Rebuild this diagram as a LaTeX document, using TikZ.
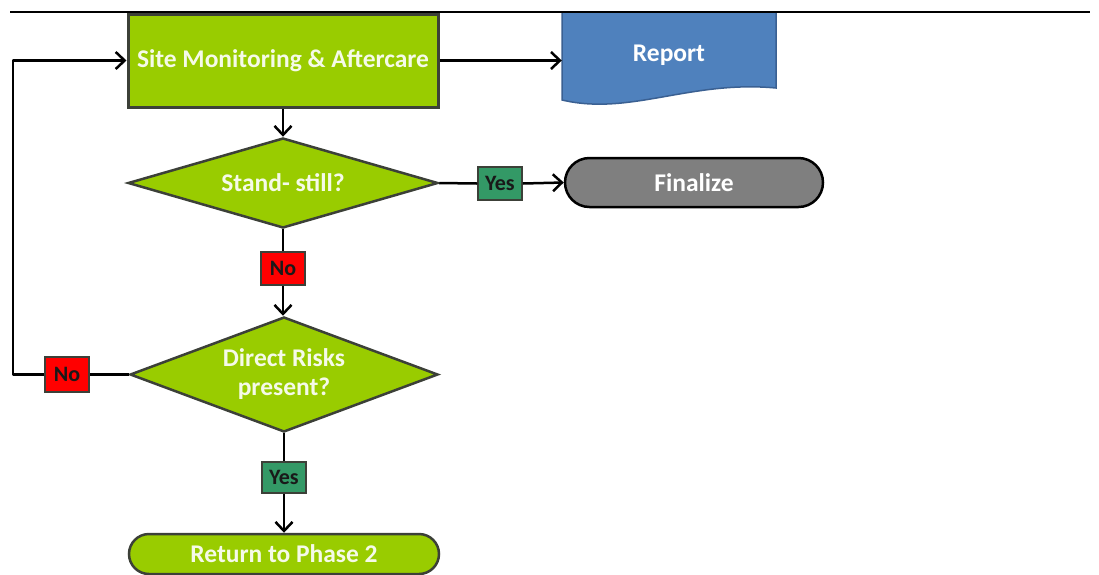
\documentclass[tikz,border=0pt]{standalone}
\usepackage{fontspec}
\setmainfont{Carlito}
\usetikzlibrary{shapes.geometric,shapes.misc,arrows.meta}

\definecolor{lime}{RGB}{153,204,0}
\definecolor{limeedge}{RGB}{60,64,56}
\definecolor{paletext}{RGB}{245,250,232}
\definecolor{docblue}{RGB}{79,129,189}
\definecolor{docedge}{RGB}{58,96,146}
\definecolor{endgray}{RGB}{127,127,127}
\definecolor{yesgreen}{RGB}{51,153,102}
\definecolor{nored}{RGB}{255,0,0}
\definecolor{labtext}{RGB}{25,25,25}

\tikzset{
  basefont/.style={font=\fontsize{25.5}{28}\selectfont\bfseries},
  procbox/.style={basefont, rectangle, draw=limeedge, fill=lime, line width=3pt,
    text=paletext, inner sep=0pt},
  decision/.style={basefont, diamond, draw=limeedge, fill=lime, line width=2.5pt,
    text=paletext, inner sep=0pt, align=center},
  endcap/.style={basefont, rounded rectangle, line width=2.5pt, inner sep=0pt},
  labbox/.style={font=\fontsize{22}{24}\selectfont\bfseries, rectangle, draw=limeedge,
    line width=1.5pt, text=labtext, inner sep=0pt, minimum width=44, minimum height=32},
  yeslab/.style={labbox, fill=yesgreen},
  nolab/.style={labbox, fill=nored},
  conn/.style={line width=2.5pt, draw=black, line join=round},
  flow/.style={conn, -{Straight Barb[length=9pt,width=17pt,line width=2.5pt]}}
}

\begin{document}
\begin{tikzpicture}[x=1pt,y=-1pt]
\useasboundingbox (0,0) rectangle (1099,574);

% report sheet with a wavy lower edge
\node[inner sep=0pt, minimum width=214, minimum height=76] (rep) at (669,50) {};
\filldraw[fill=docblue, draw=docedge, line width=1.5pt]
  (562,12) -- (776,12) -- (776,88)
  .. controls (690,80) and (630,116) .. (562,100) -- cycle;
\node[basefont, text=white] (reptext) at (669,55) {Report};

% header rule
\coordinate (ruleL) at (10,11.5);
\coordinate (ruleR) at (1090,11.5);
\draw[line width=2pt] (ruleL) -- (ruleR);

% process steps and decisions
\node[procbox, minimum width=310, minimum height=93] (site) at (283,60.5)
  {Site Monitoring \& Aftercare};
\node[decision, aspect=3.4, minimum width=310, minimum height=90] (d1) at (283,183)
  {Stand- still?};
\node[decision, aspect=2.68, minimum width=308, minimum height=115] (d2) at (284,374.5)
  {Direct Risks\\[1pt]present?};

\node[endcap, fill=endgray, draw=black, text=white,
  minimum width=258, minimum height=49] (fin) at (694,182.5) {Finalize};
\node[endcap, fill=lime, draw=limeedge, text=paletext,
  minimum width=310, minimum height=40] (ret) at (284,554) {Return to Phase 2};

% branch labels
\node[yeslab, minimum height=33] (y1) at (500,183.5) {Yes};
\node[nolab, minimum height=33] (n1) at (283,268.5) {No};
\node[nolab, minimum height=35] (n2) at (67,374.5) {No};
\node[yeslab, minimum height=31] (y2) at (284,477.5) {Yes};

% connectors
\coordinate (loop) at (13,374.5);
\draw[flow] (site.east) -- (site.east -| rep.west);
\draw[flow] (site.south) -- (d1.north);
\draw[conn] (d1.east) -- (y1.west);
\draw[flow] (y1.east) -- (fin.west);
\draw[conn] (d1.south) -- (n1.north);
\draw[flow] (n1.south) -- (n1.south |- d2.north);
\draw[conn] (d2.west) -- (n2.east);
\draw[flow] (n2.west) -- (loop) |- (site.west);
\draw[conn] (d2.south) -- (y2.north);
\draw[flow] (y2.south) -- (ret.north);
\end{tikzpicture}
\end{document}
